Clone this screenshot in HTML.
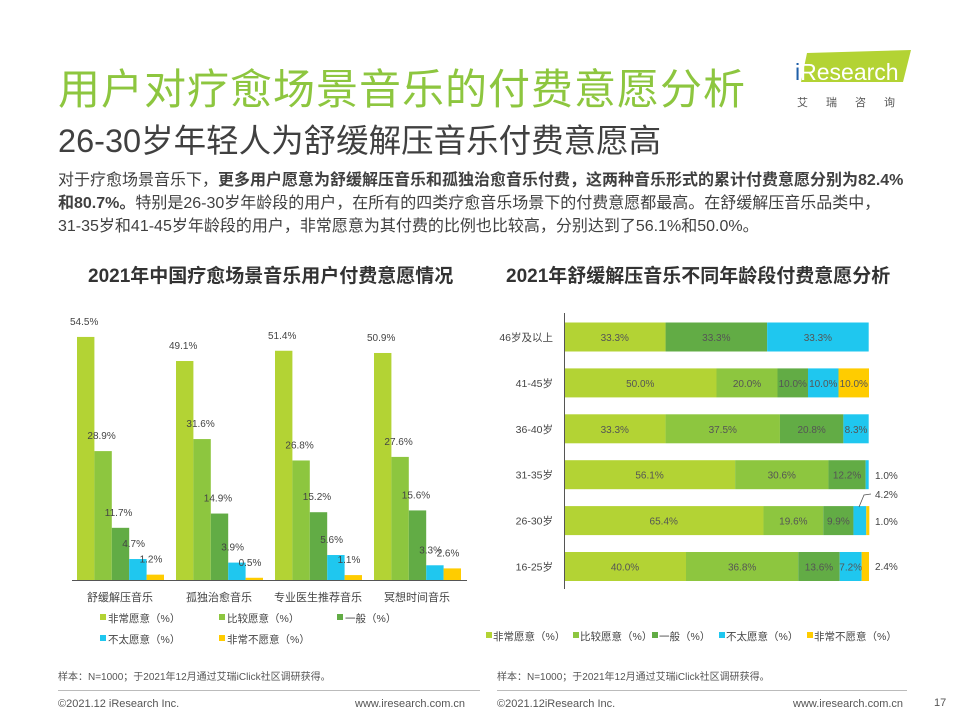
<!DOCTYPE html>
<html><head><meta charset="utf-8">
<style>
body{margin:0;width:960px;height:720px;background:#fff;font-family:"Liberation Sans","Noto Sans CJK SC",sans-serif;position:relative;overflow:hidden;color:#333}
.a{position:absolute;white-space:nowrap}
</style></head><body>
<div class="a" style="left:58px;top:56px;font-size:42px;color:#8dc63f;letter-spacing:1px">用户对疗愈场景音乐的付费意愿分析</div>
<div class="a" style="left:58px;top:115px;font-size:32.5px;color:#404040">26-30岁年轻人为舒缓解压音乐付费意愿高</div>
<div class="a" style="left:793px;top:48px;width:125px;height:62px">
<svg width="125" height="62"><polygon points="14,5 118,2 110,34 8,34" fill="#b3d334"/><text x="2" y="32" font-size="23" fill="#fff" font-family="Liberation Sans"><tspan fill="#1f5fa8">i</tspan>Research</text><text x="4" y="58" font-size="11" fill="#555" letter-spacing="18">艾瑞咨询</text></svg></div>
<div class="a" style="left:58px;top:169px;font-size:16px;line-height:23px;color:#404040">对于疗愈场景音乐下，<b>更多用户愿意为舒缓解压音乐和孤独治愈音乐付费，这两种音乐形式的累计付费意愿分别为82.4%</b><br><b>和80.7%。</b>特别是26-30岁年龄段的用户，在所有的四类疗愈音乐场景下的付费意愿都最高。在舒缓解压音乐品类中，<br>31-35岁和41-45岁年龄段的用户，非常愿意为其付费的比例也比较高，分别达到了56.1%和50.0%。</div>
<div class="a" style="left:88px;top:261px;font-size:19px;font-weight:bold;color:#333">2021年中国疗愈场景音乐用户付费意愿情况</div>
<div class="a" style="left:506px;top:261px;font-size:19px;font-weight:bold;color:#333">2021年舒缓解压音乐不同年龄段付费意愿分析</div>
<svg id="c1" class="a" style="left:0;top:0" width="960" height="720"></svg>
<div class="a" style="left:58px;top:668px;font-size:10px;color:#555">样本：N=1000；于2021年12月通过艾瑞iClick社区调研获得。</div>
<div class="a" style="left:497px;top:668px;font-size:10px;color:#555">样本：N=1000；于2021年12月通过艾瑞iClick社区调研获得。</div>
<div class="a" style="left:58px;top:690px;width:422px;height:1px;background:#bbb"></div>
<div class="a" style="left:497px;top:690px;width:410px;height:1px;background:#bbb"></div>
<div class="a" style="left:58px;top:698px;font-size:11px;color:#555">©2021.12 iResearch Inc.</div>
<div class="a" style="left:355px;top:698px;font-size:11px;color:#555">www.iresearch.com.cn</div>
<div class="a" style="left:497px;top:698px;font-size:11px;color:#555">©2021.12iResearch Inc.</div>
<div class="a" style="left:793px;top:698px;font-size:11px;color:#555">www.iresearch.com.cn</div>
<div class="a" style="left:934px;top:697px;font-size:11px;color:#555">17</div>
<script>
const seriesNames=["非常愿意（%）","比较愿意（%）","一般（%）","不太愿意（%）","非常不愿意（%）"];
const colors=["#b3d334","#8dc63f","#62ac45","#1fc7ef","#ffcc00"];
const categories=["舒缓解压音乐","孤独治愈音乐","专业医生推荐音乐","冥想时间音乐"];
const v1=[54.5,49.1,51.4,50.9];
const v2=[28.9,31.6,26.8,27.6];
const v3=[11.7,14.9,15.2,15.6];
const v4=[4.7,3.9,5.6,3.3];
const v5=[1.2,0.5,1.1,2.6];
const ages=["46岁及以上","41-45岁","36-40岁","31-35岁","26-30岁","16-25岁"];
const a1=[33.3,50.0,33.3,56.1,65.4,40.0];
const a2=[0,20.0,37.5,30.6,19.6,36.8];
const a3=[33.3,10.0,20.8,12.2,9.9,13.6];
const a4=[33.3,10.0,8.3,1.0,4.2,7.2];
const a5=[0,10.0,0,0,1.0,2.4];
const NS="http://www.w3.org/2000/svg";
const svg=document.getElementById('c1');
function mk(t,at,txt){const e=document.createElementNS(NS,t);for(const k in at)e.setAttribute(k,at[k]);if(txt!=null)e.textContent=txt;svg.appendChild(e);return e;}
const base=580, ppu=4.46;
const y=v=>base-v*ppu;
const gx=i=>77+i*99;
const bw=17.4;
const L=[v1,v2,v3,v4,v5];
for(let i=0;i<categories.length;i++){
 for(let s=0;s<5;s++){
  const v=L[s][i], x=gx(i)+s*bw;
  const r=mk('rect',{x:x,y:y(v),width:bw,height:v*ppu,fill:colors[s]});
  
  
  const t=mk('text',{x:x-7,y:y(v)-12,'font-size':10,fill:'#444'},v.toFixed(1)+'%');
  
  
 }
 const c=mk('text',{x:gx(i)+43,y:601,'font-size':11,fill:'#444','text-anchor':'middle'},categories[i]);
 
 
}
const ax=mk('line',{x1:72,x2:467,y1:580.5,y2:580.5,stroke:'#555','stroke-width':1});


const lpos=[[100,622],[219,622],[337,622],[100,643],[219,643]];
for(let s=0;s<5;s++){
 const g=mk('rect',{x:lpos[s][0],y:lpos[s][1]-8,width:6,height:6,fill:colors[s]});
 
 
 const t=mk('text',{x:lpos[s][0]+8,y:lpos[s][1],'font-size':10.5,fill:'#444'},seriesNames[s]);
 
 
}
const x0=564, W=305;
const xs=v=>v/100*W;
const A=[a1,a2,a3,a4,a5];
for(let r=0;r<ages.length;r++){
 const cy=337+r*45.9;
 let acc=0;
 for(let s=0;s<5;s++){
  const v=A[s][r]; if(!v){continue;}
  const xx=x0+xs(acc), w=xs(v);
  const b=mk('rect',{x:xx,y:cy-14.5,width:w,height:29,fill:colors[s]});
  
  
  const small=(r>=3&&(s===4||(s===3&&r!==5)));
  if(!small){
   const t=mk('text',{x:xx+w/2,y:cy+4,'font-size':10,fill:'#555','text-anchor':'middle'},v.toFixed(1)+'%');
   
   
  }
  acc+=v;
 }
 const t=mk('text',{x:553,y:cy+4,'font-size':10.5,fill:'#444','text-anchor':'end'},ages[r]);
 
 
}
const outs=[[3,a4[3],475],[4,a5[4],521],[5,a5[5],566]];
outs.forEach(o=>{const t=mk('text',{x:875,y:o[2]+4,'font-size':10,fill:'#444'},o[1].toFixed(1)+'%');});
const t42=mk('text',{x:875,y:498,'font-size':10,fill:'#444'},a4[4].toFixed(1)+'%');


const ld=mk('polyline',{points:'859,507 864,495 871,494',fill:'none',stroke:'#555','stroke-width':0.8});


const yax=mk('line',{x1:564.5,x2:564.5,y1:313,y2:589,stroke:'#555','stroke-width':1});


const rl=[486,573,652,719,807];
for(let s=0;s<5;s++){
 const g=mk('rect',{x:rl[s],y:632,width:6,height:6,fill:colors[s]});
 
 
 const t=mk('text',{x:rl[s]+7,y:640,'font-size':10.5,fill:'#444'},seriesNames[s]);
 
 
}
</script>
</body></html>
